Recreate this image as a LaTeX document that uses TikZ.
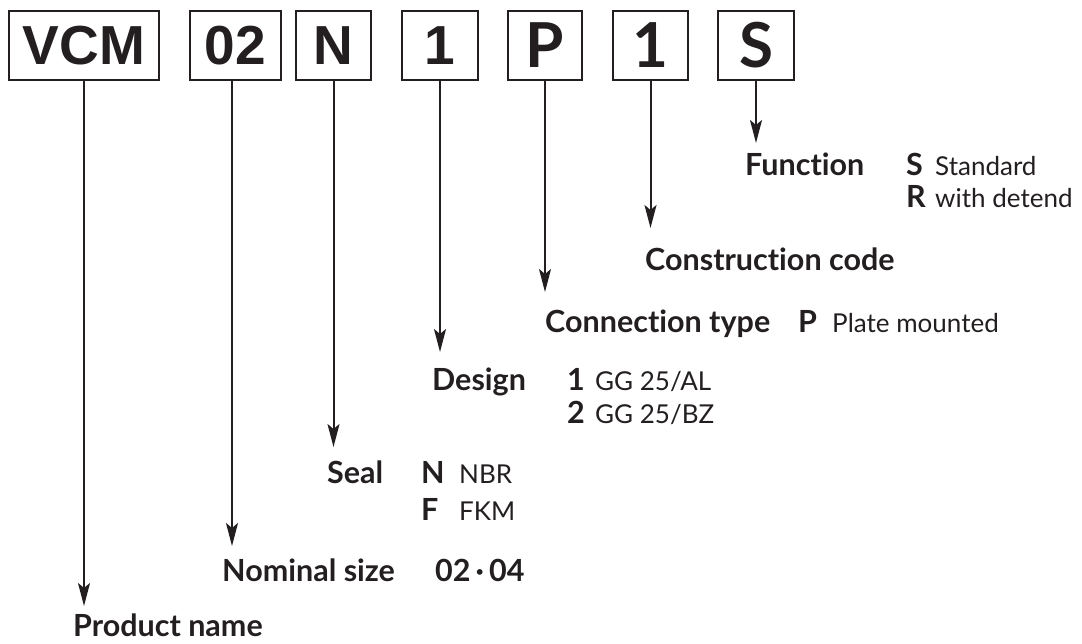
\documentclass[tikz,border=0pt]{standalone}
\usepackage{fontspec}
\setmainfont{Lato}[Ligatures=NoCommon]
\newfontfamily\boxfont{Liberation Sans}
\usetikzlibrary{arrows.meta, positioning, calc}

\definecolor{ink}{HTML}{231F20}

\tikzset{
    codebox/.style={draw=ink, line width=1.8pt, minimum height=69pt, inner sep=0pt, text=ink},
    oldcode/.style={codebox, font=\boxfont\bfseries\fontsize{55}{55}\selectfont},
    newcode/.style={codebox, font=\bfseries\fontsize{62}{62}\selectfont},
    hdr/.style={anchor=base west, inner sep=0pt, text=ink, font=\bfseries\fontsize{30.5}{30.5}\selectfont},
    desc/.style={anchor=base west, inner sep=0pt, text=ink, font=\fontsize{26}{26}\selectfont},
    feed/.style={draw=ink, line width=2pt, -{Stealth[length=23pt, width=12pt, inset=5pt]}},
}

\begin{document}
\begin{tikzpicture}[x=1pt, y=-1pt]
    \useasboundingbox (0,0) rectangle (1082,643);

    % Code boxes
    \node (vcm) [oldcode, minimum width=150pt] at (84,45.5) {VCM};
    \node (size) [oldcode, minimum width=91pt] at (235.5,45.5) {02};
    \node (seal) [oldcode, minimum width=75pt] at (333.5,45.5) {N};
    \node (design) [oldcode, minimum width=76pt] at (440,45.5) {1};
    \node (conn) [newcode, minimum width=74pt] at (545,45.5) {P};
    \node (constr) [newcode, minimum width=75pt] at (650.5,45.5) {1};
    \node (func) [newcode, minimum width=76pt] at (756,45.5) {S};

    % Arrow tips
    \coordinate (vcmtip) at (84,606);
    \coordinate (sizetip) at (232,546);
    \coordinate (sealtip) at (333.5,447);
    \coordinate (designtip) at (440,352);
    \coordinate (conntip) at (545,292);
    \coordinate (constrtip) at (650.5,228);
    \coordinate (functip) at (756,143);

    % Edges
    \draw[feed] (vcm) -- (vcmtip);
    \draw[feed] (size.south -| sizetip) -- (sizetip);
    \draw[feed] (seal) -- (sealtip);
    \draw[feed] (design) -- (designtip);
    \draw[feed] (conn) -- (conntip);
    \draw[feed] (constr) -- (constrtip);
    \draw[feed] (func) -- (functip);

    % Labels
    \node (funclbl) [hdr] at (745,175) {Function};
    \node (funcs) [hdr] at (906,175) {S};
    \node (funcstd) [desc] at (935,175) {Standard};
    \node (funcr) [hdr] at (906,207) {R};
    \node (funcdet) [desc] at (935,207) {with detend};

    \node (constrlbl) [hdr] at (645,270) {Construction code};

    \node (connlbl) [hdr] at (545,332) {Connection type};
    \node (connp) [hdr] at (798,332) {P};
    \node (connplate) [desc] at (832,332) {Plate mounted};

    \node (designlbl) [hdr] at (432,390) {Design};
    \node (designa) [hdr] at (567,390) {1};
    \node (designal) [desc] at (595,390) {GG 25/AL};
    \node (designb) [hdr] at (567,423) {2};
    \node (designbz) [desc] at (595,423) {GG 25/BZ};

    \node (seallbl) [hdr] at (327,483) {Seal};
    \node (sealn) [hdr] at (421,483) {N};
    \node (sealnbr) [desc] at (459,483) {NBR};
    \node (sealf) [hdr] at (421,520) {F};
    \node (sealfkm) [desc] at (459,520) {FKM};

    \node (sizelbl) [hdr] at (222,581) {Nominal size};
    \node (sizeval) [hdr] at (435,581) {02\,·\,04};

    \node (vcmlbl) [hdr] at (73,636) {Product name};
\end{tikzpicture}
\end{document}
